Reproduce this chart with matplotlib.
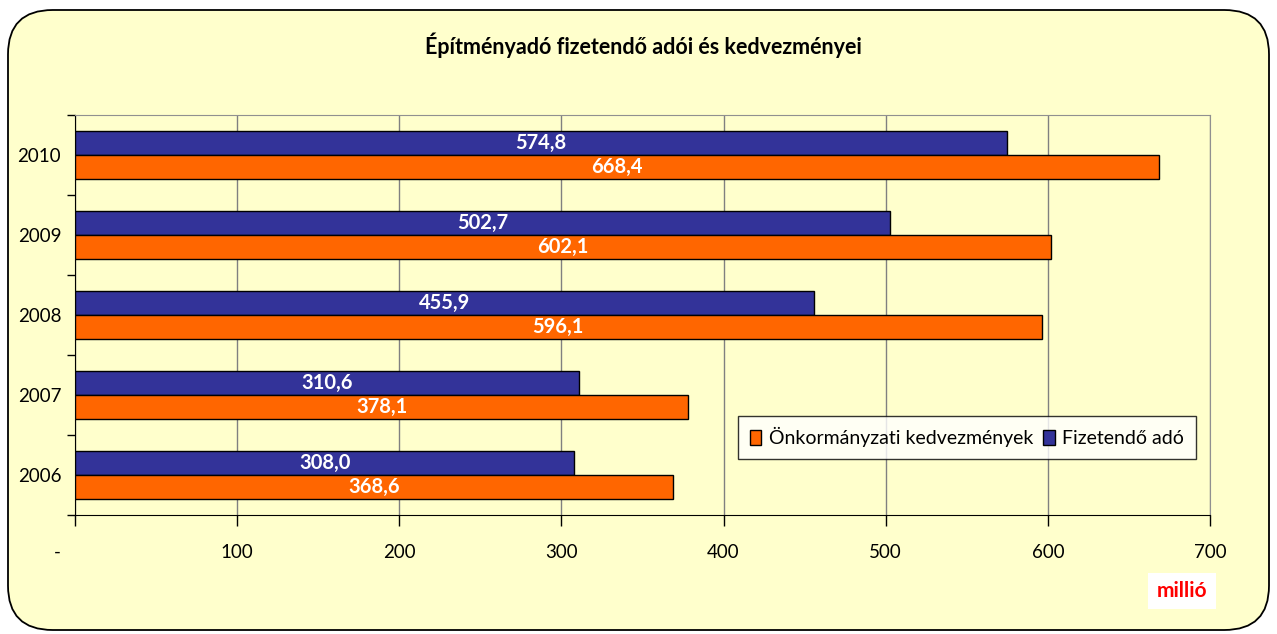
import matplotlib.pyplot as plt
import numpy as np
from matplotlib.patches import FancyBboxPatch, Patch
from matplotlib.transforms import ScaledTranslation

years = ['2006', '2007', '2008', '2009', '2010']
fizetendo = [308.0, 310.6, 455.9, 502.7, 574.8]
kedvezmeny = [368.6, 378.1, 596.1, 602.1, 668.4]
xticks = [0, 100, 200, 300, 400, 500, 600, 700]
xticklabels = ['-', '100', '200', '300', '400', '500', '600', '700']

BG = '#FFFFCC'
BLUE = '#333399'
ORANGE = '#FF6600'

plt.rcParams['font.family'] = ['Lato', 'DejaVu Sans']

fig = plt.figure(figsize=(12.77, 6.34), dpi=100)
fig.patch.set_facecolor('white')
frame = FancyBboxPatch((8 / 1277, 4 / 634), 1261 / 1277, 620 / 634,
                       boxstyle='round,pad=0,rounding_size=0.035',
                       transform=fig.transFigure, facecolor=BG,
                       edgecolor='black', linewidth=1.3, mutation_aspect=2.0,
                       zorder=-10)
fig.patches.append(frame)

ax = fig.add_axes([75 / 1277, 1 - 515 / 634, 1135 / 1277, 400 / 634])
ax.set_facecolor(BG)

y = np.arange(len(years))
h = 0.3
b1 = ax.barh(y, fizetendo, height=h, align='edge', color=BLUE,
             edgecolor='black', linewidth=1, zorder=3)
b2 = ax.barh(y - h, kedvezmeny, height=h, align='edge', color=ORANGE,
             edgecolor='black', linewidth=1, zorder=3)

for bars, vals in ((b1, fizetendo), (b2, kedvezmeny)):
    for bar, v in zip(bars, vals):
        ax.text(v / 2, bar.get_y() + bar.get_height() / 2,
                f'{v:.1f}'.replace('.', ','), ha='center', va='center',
                color='white', fontweight='bold', fontsize=14.5, zorder=4)

ax.set_xlim(0, 700)
ax.set_ylim(-0.5, len(years) - 0.5)
ax.set_xticks(xticks)
ax.set_xticklabels(xticklabels, fontsize=13.5)
ax.set_yticks(y)
ax.set_yticklabels(years, fontsize=13.5)
ax.set_yticks(np.arange(len(years) + 1) - 0.5, minor=True)
ax.tick_params(axis='y', which='major', length=0, pad=10)
ax.tick_params(axis='y', which='minor', length=6, width=1, direction='out')
ax.tick_params(axis='x', length=8, width=1, direction='out', pad=13)
ax.grid(axis='x', color='#808080', linewidth=1, zorder=0)

# Excel puts the zero dash a bit left of the axis
dash = ax.get_xticklabels()[0]
dash.set_transform(dash.get_transform() + ScaledTranslation(-0.18, 0, fig.dpi_scale_trans))

for s in ('top', 'right'):
    ax.spines[s].set_color('#909090')
for s in ('left', 'bottom'):
    ax.spines[s].set_color('black')

handles = [Patch(facecolor=ORANGE, edgecolor='black'),
           Patch(facecolor=BLUE, edgecolor='black')]
leg = ax.legend(handles, ['Önkormányzati kedvezmények', 'Fizetendő adó'],
                ncol=2, loc='lower left', bbox_to_anchor=(0.584, 0.14),
                borderaxespad=0, fontsize=14, frameon=True, fancybox=False,
                handlelength=0.6, handleheight=0.8, handletextpad=0.4,
                columnspacing=0.5, borderpad=0.6)
leg.get_frame().set_edgecolor('black')
leg.get_frame().set_linewidth(1)
leg.get_frame().set_facecolor('white')
leg.set_zorder(5)

fig.text(643 / 1277, 1 - 45 / 634, 'Építményadó fizetendő adói és kedvezményei',
         ha='center', va='center', fontsize=15.5, fontweight='bold')
fig.text(1182 / 1277, 1 - 591 / 634, 'millió', ha='center', va='center',
         fontsize=15, fontweight='bold', color='#FF0000',
         bbox=dict(facecolor='white', edgecolor='none', pad=6))

fig.savefig('out.png', dpi=100, facecolor='white')
